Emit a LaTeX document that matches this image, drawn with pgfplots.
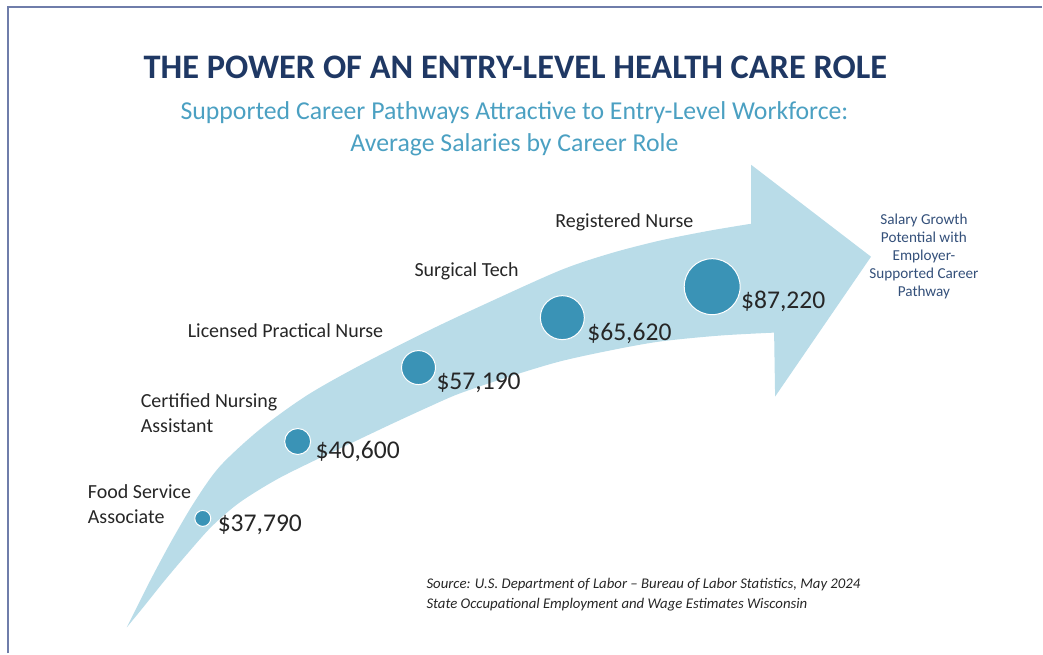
\documentclass[border=0pt]{standalone}
\usepackage{pgfplots}
\pgfplotsset{compat=1.18}
\usepackage{pgfplotstable}
\usepackage{fontspec}
\setmainfont{Carlito}
\definecolor{frameC}{HTML}{6F7DAA}
\definecolor{arrowC}{HTML}{B9DCE8}
\definecolor{dotC}{HTML}{3A93B6}
\definecolor{titleC}{HTML}{1F3864}
\definecolor{subC}{HTML}{4BA0C2}
\definecolor{noteC}{HTML}{34507A}
\definecolor{txtC}{HTML}{262626}

% circle centres (pixel x, flipped y) and radius in px
\pgfplotstableread{
x   y   r
203 135 8
298 212 13
419 286 17
563 336 22
713 367 28
}\dots

\begin{document}
\begin{tikzpicture}[lbl/.style={inner sep=0pt, outer sep=0pt}]
\begin{axis}[
  width=521.5pt, height=327pt, scale only axis,
  xmin=0, xmax=1043, ymin=0, ymax=654,
  hide axis, clip=false,
]
  \path (0,0) rectangle (1043,654);
  % frame
  \draw[frameC, line width=1.2pt] (8,0) -- (8,647) -- (1043,647);

  % the arrow
  \fill[arrowC] plot[smooth] coordinates {(127,26)(150,72)(172,113)(195,152)(220,187)(260,224)
      (307,258)(360,288)(427,322)(480,347)(560,383)(610,400)(660,413)(710,423)(752,430)}
    -- (752,489) -- (872,397) -- (776,257) -- (775,321)
    -- plot[smooth] coordinates {(775,321)(720,318)(660,312)(610,303)(560,292)(510,277)
      (460,260)(430,247)(393,230)(355,212)(317,194)(277,174)(240,151)(212,127)(187,99)
      (165,73)(145,48)(127,26)} -- cycle;

  % circles
  \addplot[scatter, only marks, mark=*,
    scatter/use mapped color={draw=white, fill=dotC},
    mark options={line width=0.5pt},
    visualization depends on={0.5*\thisrow{r} \as \rad},
    scatter/@pre marker code/.append style={/tikz/mark size=\rad pt}]
    table[x=x, y=y, meta=r] {\dots};

  % salaries
  \begin{scope}[font=\fontsize{12.8}{14}\selectfont, txtC, every node/.style={lbl, anchor=base west}]
  \node at (218,122) {\$37,790};
  \node at (316,195) {\$40,600};
  \node at (437,264) {\$57,190};
  \node at (588,313) {\$65,620};
  \node at (742,345) {\$87,220};
  \end{scope}

  % roles
  \begin{scope}[font=\fontsize{10}{12}\selectfont, txtC, every node/.style={lbl, anchor=base west}]
  \node at (88,155) {Food Service};
  \node at (88,130) {Associate};
  \node at (141,246) {Certified Nursing};
  \node at (141,221) {Assistant};
  \node at (188,316) {Licensed Practical Nurse};
  \node at (415,377) {Surgical Tech};
  \node at (556,426) {Registered Nurse};
  \end{scope}

  % note at the arrow tip
  \begin{scope}[font=\fontsize{7.6}{9}\selectfont, noteC, every node/.style={lbl, anchor=base}]
  \node at (925,429) {Salary Growth};
  \node at (925,411) {Potential with};
  \node at (925,393) {Employer-};
  \node at (925,375) {Supported Career};
  \node at (925,357) {Pathway};
  \end{scope}

  % titles
  \node[lbl, anchor=base, titleC, font=\fontsize{17.2}{20}\selectfont\bfseries] at (516,575)
    {THE POWER OF AN ENTRY-LEVEL HEALTH CARE ROLE};
  \node[lbl, anchor=base, subC, font=\fontsize{12.9}{15}\selectfont] at (515,534)
    {Supported Career Pathways Attractive to Entry-Level Workforce:};
  \node[lbl, anchor=base, subC, font=\fontsize{12.9}{15}\selectfont] at (515,502)
    {Average Salaries by Career Role};

  % source
  \begin{scope}[font=\fontsize{7.4}{9}\selectfont\itshape, txtC, every node/.style={lbl, anchor=base west}]
  \node at (427,65)
    {Source: U.S. Department of Labor -- Bureau of Labor Statistics, May 2024};
  \node at (427,45)
    {State Occupational Employment and Wage Estimates Wisconsin};
  \end{scope}
\end{axis}
\end{tikzpicture}
\end{document}
